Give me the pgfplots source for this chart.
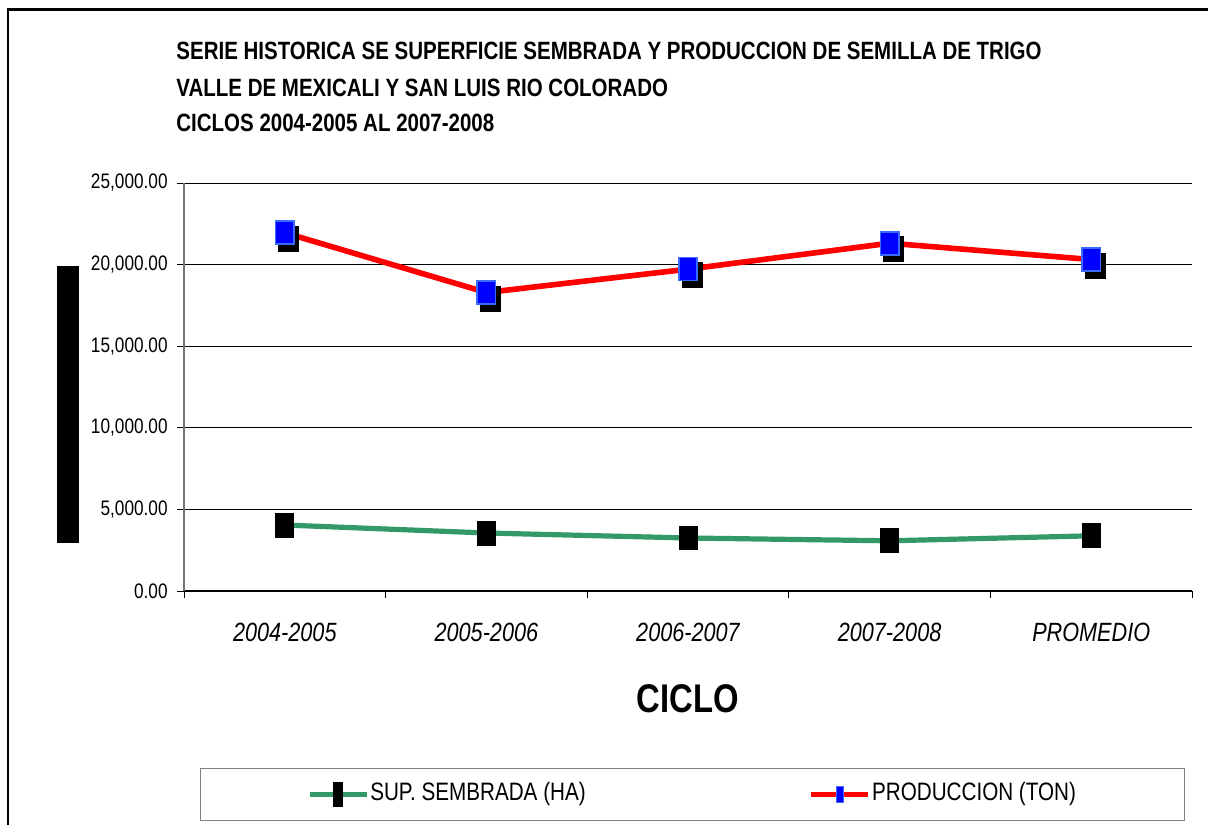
\documentclass[border=0pt]{standalone}
\usepackage{pgfplots}
\pgfplotsset{compat=1.18}
\usepackage{fontspec}
\setmainfont{Liberation Sans}
\newfontfamily\nar{Liberation Sans}[FakeStretch=0.82]
\definecolor{sgreen}{HTML}{339966}
\definecolor{mblue}{HTML}{0000FF}
\definecolor{bblue}{HTML}{3A6BFF}
\begin{document}
\begin{tikzpicture}
\useasboundingbox (0,0) rectangle (604pt,412.5pt);
\draw[line width=1.3pt] (4pt,0) -- (4pt,407.75pt) -- (604pt,407.75pt);
\node[anchor=base west,inner sep=0pt,font=\nar\bfseries\fontsize{12.5}{14}\selectfont] at (88pt,382.5pt) {SERIE HISTORICA SE SUPERFICIE SEMBRADA Y PRODUCCION DE SEMILLA DE TRIGO};
\node[anchor=base west,inner sep=0pt,font=\nar\bfseries\fontsize{12.5}{14}\selectfont] at (88pt,364pt) {VALLE DE MEXICALI Y SAN LUIS RIO COLORADO};
\node[anchor=base west,inner sep=0pt,font=\nar\bfseries\fontsize{12.5}{14}\selectfont] at (88pt,346.5pt) {CICLOS 2004-2005 AL 2007-2008};
\fill[black] (28.5pt,141pt) rectangle (39.5pt,279.5pt);
\begin{axis}[
  at={(92pt,117pt)}, anchor=south west, scale only axis,
  width=504pt, height=204pt,
  xmin=-0.5, xmax=4.5, ymin=0, ymax=25000,
  axis x line*=bottom, axis y line*=left,
  x axis line style={black, line width=0.6pt},
  y axis line style={draw=black!55, line width=0.6pt},
  xtick={0,1,2,3,4},
  xticklabels={2004-2005,2005-2006,2006-2007,2007-2008,PROMEDIO},
  minor xtick={-0.5,0.5,1.5,2.5,3.5,4.5},
  major x tick style={draw=none},
  minor x tick style={black, line width=0.5pt},
  major y tick style={black, line width=0.5pt},
  tick align=outside,
  major tick length=3.5pt, minor tick length=3.5pt,
  ytick={0,5000,10000,15000,20000,25000},
  scaled y ticks=false,
  ymajorgrids, grid style={black, line width=0.5pt},
  /pgf/number format/assume math mode=true,
  yticklabel={\pgfmathprintnumber[fixed,fixed zerofill,precision=2,1000 sep={,}]{\tick}},
  yticklabel style={font=\nar\fontsize{10.5}{12}\selectfont, anchor=east, inner sep=0pt, xshift=-4.5pt},
  xticklabel style={font=\nar\itshape\fontsize{13.2}{15}\selectfont, anchor=base, inner sep=0pt, yshift=-21.5pt},
  xlabel={CICLO},
  x label style={font=\nar\bfseries\fontsize{20}{22}\selectfont, at={(axis description cs:0.5,0)}, anchor=base, inner sep=0pt, yshift=-60.5pt},
  legend columns=2,
  legend style={at={(axis description cs:0.50446,-0.49877)}, anchor=center,
    draw=black!50, line width=0.9pt, fill=white,
    inner xsep=53.5pt, inner ysep=7pt,
    font=\nar\fontsize{12.6}{14}\selectfont,
    nodes={inner xsep=0.75pt, inner ysep=0pt, text height=9pt, text depth=3pt},
    /tikz/every even column/.append style={column sep=111pt}},
  legend cell align=left,
]
\addplot[sgreen, line width=2.6pt, mark=square*, mark size=4.5pt,
  mark options={black, fill=black, line width=0pt, yscale=1.333},
  legend image code/.code={\draw[sgreen, line width=2.2pt, mark repeat=2, mark phase=2, mark=square*, mark size=2.25pt, mark options={black, fill=black, line width=0pt, yscale=2.67}] plot coordinates {(0cm,0cm) (0.5cm,0cm) (1cm,0cm)};}]
  coordinates {(0,4044) (1,3554) (2,3248) (3,3076) (4,3382)};
\addlegendentry{SUP. SEMBRADA (HA)}
\addplot[forget plot, only marks, mark=square*, mark size=5pt,
  mark options={black, fill=black, line width=0pt, yscale=1.25, xshift=2pt, yshift=-2.5pt}]
  coordinates {(0,21950) (1,18290) (2,19720) (3,21310) (4,20310)};
\addplot[red, line width=2.8pt, mark=square*, mark size=4.6pt,
  mark options={draw=bblue, fill=mblue, line width=0.8pt, yscale=1.25},
  legend image code/.code={\draw[red, line width=2.2pt, mark repeat=2, mark phase=2, mark=square*, mark size=1.7pt, mark options={draw=bblue, fill=mblue, line width=0.5pt, yscale=2.3}] plot coordinates {(0cm,0cm) (0.5cm,0cm) (1cm,0cm)};}]
  coordinates {(0,21950) (1,18290) (2,19720) (3,21310) (4,20310)};
\addlegendentry{PRODUCCION (TON)}
\end{axis}
\end{tikzpicture}
\end{document}
